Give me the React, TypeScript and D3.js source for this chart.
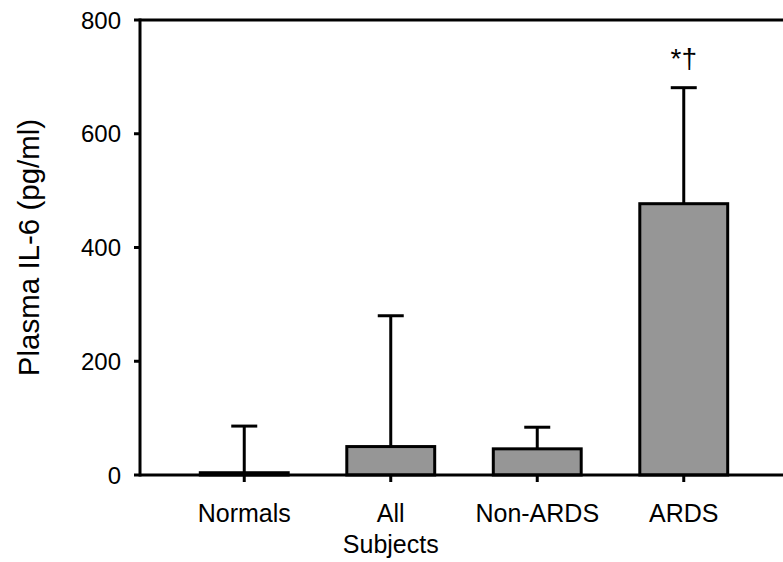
import React from 'react';
import * as d3 from 'd3';

const categories = ['Normals', 'All Subjects', 'Non-ARDS', 'ARDS'];
const categoryLines = [['Normals'], ['All', 'Subjects'], ['Non-ARDS'], ['ARDS']];
const means = [4, 50, 46, 477];
const upperErrors = [86, 280, 84, 681];
const yTicks = [0, 200, 400, 600, 800];
const annotations = ['', '', '', '*\u2020'];

export default function App() {
  const width = 783;
  const height = 562;
  const margin = { top: 20, right: 0, bottom: 87, left: 140 };
  const y0 = height - margin.bottom; // 475

  const x = d3.scaleBand<string>()
    .domain(categories)
    .range([171, 757])
    .paddingInner(0.4)
    .paddingOuter(0.2);

  const y = d3.scaleLinear()
    .domain([0, 800])
    .range([y0, margin.top]);

  const font = 'Liberation Sans, Arial, sans-serif';

  return (
    <svg width={width} height={height} style={{ position: 'absolute', left: 0, top: 0 }}>
      <rect width={width} height={height} fill="#fff" />

      {/* bars */}
      {categories.map((c, i) => (
        <rect
          key={c}
          x={x(c)}
          y={y(means[i])}
          width={x.bandwidth()}
          height={y0 - y(means[i])}
          fill="#969696"
          stroke="#000"
          strokeWidth={3}
        />
      ))}

      {/* error bars */}
      {categories.map((c, i) => {
        const cx = (x(c) as number) + x.bandwidth() / 2;
        return (
          <g key={c + '-err'} stroke="#000" strokeWidth={3}>
            <line x1={cx} x2={cx} y1={y(means[i])} y2={y(upperErrors[i])} />
            <line x1={cx - 13} x2={cx + 13} y1={y(upperErrors[i])} y2={y(upperErrors[i])} />
          </g>
        );
      })}

      {/* annotations */}
      {categories.map((c, i) => annotations[i] ? (
        <text
          key={c + '-ann'}
          x={(x(c) as number) + x.bandwidth() / 2}
          y={y(upperErrors[i]) - 20}
          textAnchor="middle"
          fontFamily={font}
          fontSize={28}
        >{annotations[i]}</text>
      ) : null)}

      {/* frame lines */}
      <line x1={margin.left} x2={width} y1={y(800)} y2={y(800)} stroke="#000" strokeWidth={3} />
      <line x1={margin.left} x2={width} y1={y0} y2={y0} stroke="#000" strokeWidth={3} />
      <line x1={margin.left} x2={margin.left} y1={y(800) - 1.5} y2={y0 + 1.5} stroke="#000" strokeWidth={3} />

      {/* y ticks */}
      {yTicks.map(t => (
        <g key={t}>
          <line x1={margin.left - 6} x2={margin.left} y1={y(t)} y2={y(t)} stroke="#000" strokeWidth={3} />
          <text
            x={margin.left - 19}
            y={y(t)}
            dy="0.36em"
            textAnchor="end"
            fontFamily={font}
            fontSize={24}
          >{t}</text>
        </g>
      ))}

      {/* x ticks and labels */}
      {categories.map((c, i) => {
        const cx = (x(c) as number) + x.bandwidth() / 2;
        return (
          <g key={c + '-x'}>
            <line x1={cx} x2={cx} y1={y0} y2={y0 + 7} stroke="#000" strokeWidth={3} />
            {categoryLines[i].map((l, j) => (
              <text
                key={l}
                x={cx}
                y={y0 + 47 + j * 31}
                textAnchor="middle"
                fontFamily={font}
                fontSize={25}
              >{l}</text>
            ))}
          </g>
        );
      })}

      {/* y axis title */}
      <text
        transform={`translate(39,${(y0 + margin.top) / 2}) rotate(-90)`}
        textAnchor="middle"
        fontFamily={font}
        fontSize={29.5}
      >Plasma IL-6 (pg/ml)</text>
    </svg>
  );
}
